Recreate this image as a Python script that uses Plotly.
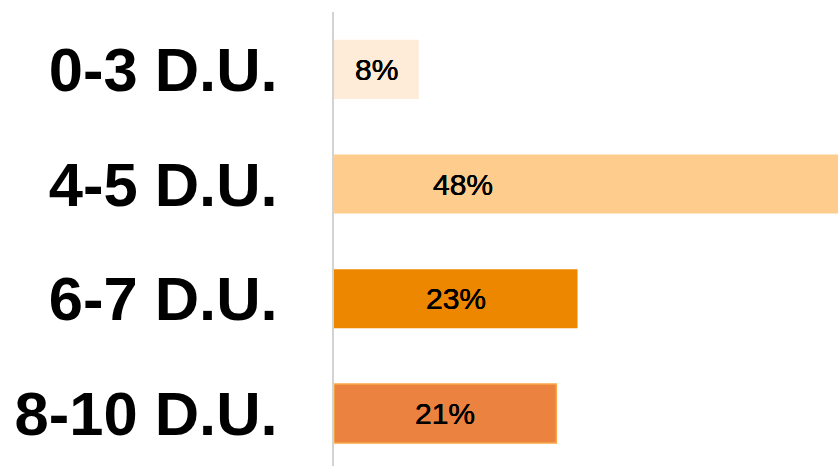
import plotly.graph_objects as go

categories = ["0-3 D.U.", "4-5 D.U.", "6-7 D.U.", "8-10 D.U."]
values = [8, 48, 23, 21]
labels = ["8%", "48%", "23%", "21%"]
colors = ["#FEECD9", "#FECC8C", "#EE8700", "#EB8240"]
border_colors = ["rgba(0,0,0,0)", "rgba(0,0,0,0)", "rgba(0,0,0,0)", "#FAA847"]
border_widths = [0, 0, 0, 1.5]

X_MAX = 47.6
# visible label anchor for bars that run past the plot edge
label_x = [min(v, 24.4) / 2 for v in values]

fig = go.Figure()
fig.add_trace(go.Bar(
    y=categories,
    x=values,
    orientation="h",
    width=0.515,
    marker=dict(color=colors, line=dict(color=border_colors, width=border_widths)),
    hoverinfo="skip",
))

for c, lx, t in zip(categories, label_x, labels):
    fig.add_annotation(
        x=lx, y=c, text=t, showarrow=False,
        font=dict(family="Liberation Sans, Arial, sans-serif", size=30, color="#000000",
                  shadow="0.2px 0 0 #000, -0.2px 0 0 #000"),
        xanchor="center", yanchor="middle",
    )

fig.update_layout(
    width=838,
    height=466,
    margin=dict(l=334, r=0, t=12, b=0),
    plot_bgcolor="white",
    paper_bgcolor="white",
    showlegend=False,
    xaxis=dict(range=[0, X_MAX], showgrid=False, zeroline=False, showticklabels=False,
               showline=False, ticks=""),
    yaxis=dict(
        categoryorder="array", categoryarray=categories,
        range=[3.458, -0.5],
        showgrid=False, zeroline=False,
        showline=True, linecolor="#D3D3D3", linewidth=2,
        ticks="", ticklabelstandoff=42,
        tickfont=dict(family="Liberation Sans, Arial, sans-serif", size=61.5, color="#000000", weight="bold"),
    ),
)

fig.write_html(
    "out.html",
    config={"displayModeBar": False},
    post_script="document.body.style.margin='0';document.body.style.overflow='hidden';",
)
